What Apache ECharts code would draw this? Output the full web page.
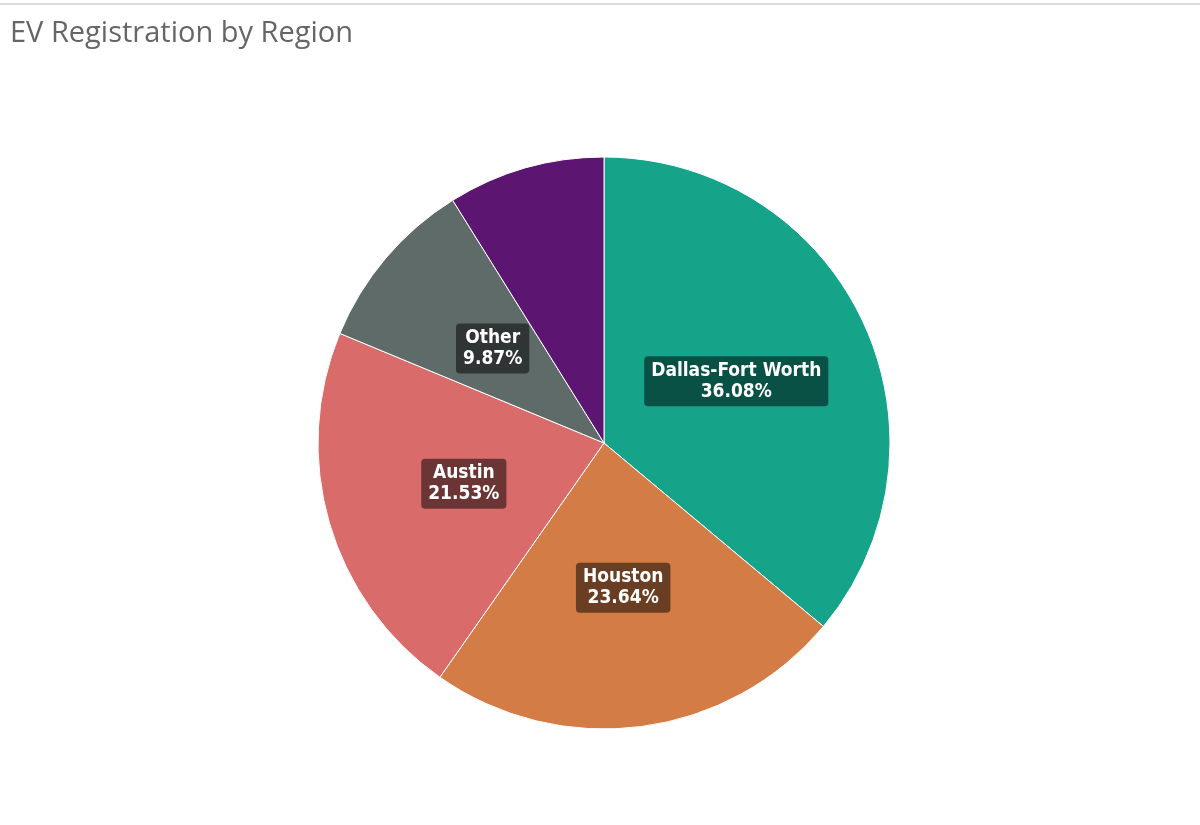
<!DOCTYPE html>
<html><head><meta charset="utf-8">
<script src="https://cdn.jsdelivr.net/npm/echarts@6/dist/echarts.min.js"></script>
<style>html,body{margin:0;padding:0;background:#fff}#c{width:1200px;height:825px}
#line{position:absolute;left:0;top:3px;width:1200px;height:2px;background:#ddd}</style>
</head><body><div id="line"></div><div id="c"></div>
<script>
const categories = ['Dallas-Fort Worth','Houston','Austin','Other','San Antonio'];
const values = [36.08, 23.64, 21.53, 9.87, 8.87];
const colors = ['#15A38A','#D47C45','#D96B6B','#5F6B68','#5C1570'];
const chart = echarts.init(document.getElementById('c'));
chart.setOption({
  animation:false,
  title:{text:'EV Registration by Region',left:5,top:14,textStyle:{fontFamily:'Open Sans',fontWeight:'normal',fontSize:29,color:'#666'}},
  series:[{
    type:'pie',center:[604,443],radius:[0,286],startAngle:90,clockwise:true,
    itemStyle:{borderColor:'#fff',borderWidth:1},
    data:categories.map((n,i)=>({name:n,value:values[i],itemStyle:{color:colors[i]}})),
    label:{position:'inside',formatter:p=>p.name+'\n'+p.value.toFixed(2)+'%',
      color:'#fff',fontWeight:'bold',fontSize:19,lineHeight:21,
      fontFamily:'DejaVu Sans Condensed, Liberation Sans Narrow, sans-serif',
      backgroundColor:'rgba(0,0,0,0.5)',borderRadius:4,padding:[4,7]},
    labelLine:{show:false}
  }]
});
</script></body></html>
